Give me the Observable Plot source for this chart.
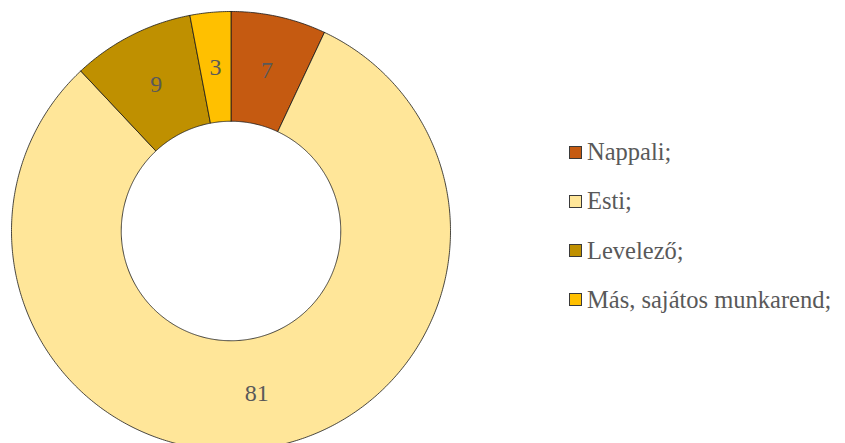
<!DOCTYPE html>
<html>
<head>
<meta charset="utf-8">
<script src="https://cdn.jsdelivr.net/npm/d3@7"></script>
<script src="https://cdn.jsdelivr.net/npm/@observablehq/plot@0.6"></script>
<style>
  html, body { margin: 0; padding: 0; background: #fff; overflow: hidden; }
  #wrap { position: relative; width: 845px; height: 443px; }
  #legend { position: absolute; left: 569px; top: 139px; font-family: "Liberation Serif", "Times New Roman", "DejaVu Serif", serif; font-size: 24.5px; color: #595959; }
  .item { display: flex; align-items: center; height: 26px; margin-bottom: 23.3px; white-space: nowrap; }
  .sw { width: 11px; height: 11px; border: 1px solid #3a3a3a; margin-right: 5px; flex: none; }
</style>
</head>
<body>
<div id="wrap"></div>
<script>
const categories = ["Nappali;", "Esti;", "Levelező;", "Más, sajátos munkarend;"];
const values = [7, 81, 9, 3];
const valueLabels = ["7", "81", "9", "3"];
const colors = ["#C55A11", "#FFE699", "#BF9000", "#FFC000"];

const data = categories.map((name, i) => ({name, value: values[i], label: valueLabels[i]}));
const arcs = d3.pie().sort(null).value(d => d.value)(data);

const outerR = 1, innerR = 0.5, labelR = 0.75;
const pt = (a, r) => ({x: r * Math.sin(a), y: r * Math.cos(a)});

const ring = [];
for (const a of arcs) {
  const n = Math.max(4, Math.ceil((a.endAngle - a.startAngle) / 0.01));
  const pts = [];
  for (let k = 0; k <= n; k++) pts.push(pt(a.startAngle + (a.endAngle - a.startAngle) * k / n, outerR));
  for (let k = n; k >= 0; k--) pts.push(pt(a.startAngle + (a.endAngle - a.startAngle) * k / n, innerR));
  pts.push(pts[0]);
  for (const p of pts) ring.push({name: a.data.name, x: p.x, y: p.y});
}
const labelPts = arcs.map(a => {
  const m = (a.startAngle + a.endAngle) / 2;
  return {...pt(m, labelR), label: a.data.label};
});

const chart = Plot.plot({
  width: 845,
  height: 443,
  margin: 0,
  style: {fontFamily: "'Liberation Serif', 'Times New Roman', 'DejaVu Serif', serif", background: "transparent"},
  x: {domain: [-1, 1], range: [11, 450], axis: null},
  y: {domain: [-1, 1], range: [450, 11], axis: null},
  color: {domain: categories, range: colors},
  marks: [
    Plot.line(ring, {x: "x", y: "y", z: "name", fill: "name", stroke: "#1a1a1a", strokeWidth: 0.8, curve: "linear"}),
    Plot.text(labelPts, {x: "x", y: "y", text: "label", fill: "#595959", fontSize: 24, fontFamily: "'Liberation Serif', 'Times New Roman', serif"})
  ]
});
document.getElementById("wrap").appendChild(chart);

const legend = document.createElement("div");
legend.id = "legend";
categories.forEach((c, i) => {
  const it = document.createElement("div");
  it.className = "item";
  const sw = document.createElement("span");
  sw.className = "sw";
  sw.style.background = colors[i];
  const t = document.createElement("span");
  t.textContent = c;
  it.appendChild(sw); it.appendChild(t);
  legend.appendChild(it);
});
document.getElementById("wrap").appendChild(legend);
</script>
</body>
</html>
